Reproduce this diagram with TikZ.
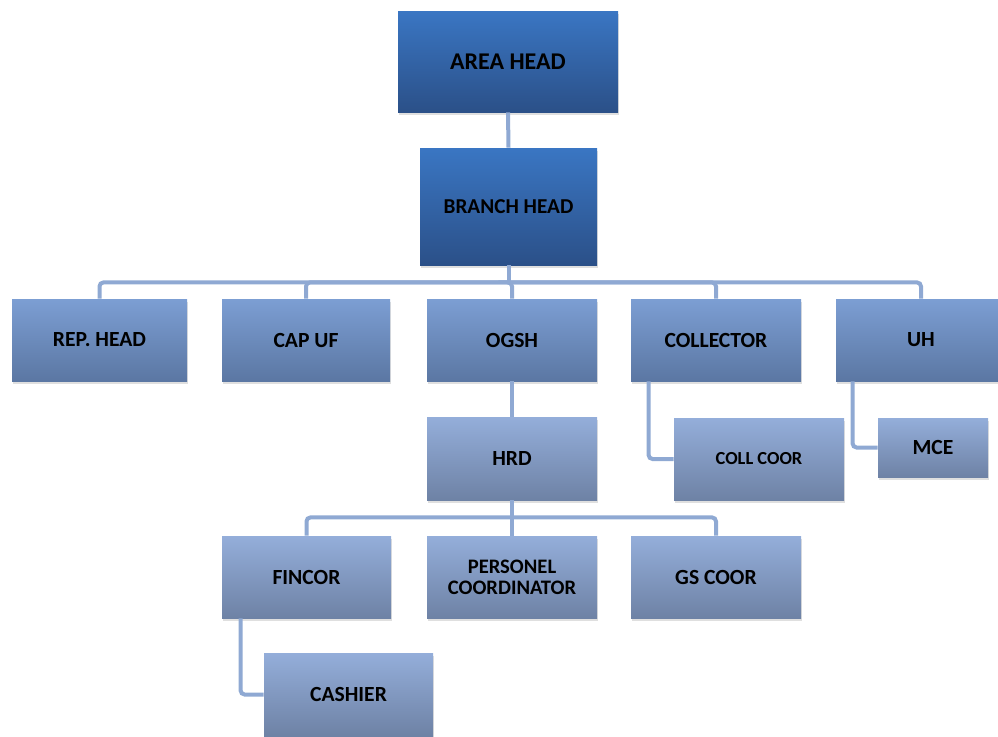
\documentclass[tikz,border=0pt]{standalone}
\usepackage{fontspec}
\setmainfont{Carlito}
\usetikzlibrary{shadows}

\definecolor{headtop}{RGB}{58,118,195}
\definecolor{headbot}{RGB}{43,80,136}
\definecolor{midtop}{RGB}{124,158,211}
\definecolor{midbot}{RGB}{91,119,163}
\definecolor{lowtop}{RGB}{148,174,218}
\definecolor{lowbot}{RGB}{110,130,165}
\definecolor{linkcol}{RGB}{143,169,211}

\tikzset{
  box/.style={rectangle, inner sep=2pt, align=center, font=\bfseries\fontsize{10.8}{11.5}\selectfont,
    drop shadow={opacity=0.25, shadow xshift=0.6pt, shadow yshift=-1.5pt}},
  headbox/.style={box, shade, top color=headtop, bottom color=headbot},
  midbox/.style={box, shade, top color=midtop, bottom color=midbot},
  lowbox/.style={box, shade, top color=lowtop, bottom color=lowbot},
  link/.style={draw=linkcol, line width=2pt, rounded corners=2pt}
}

\begin{document}
\begin{tikzpicture}[x=0.5pt,y=-0.5pt]
\useasboundingbox (0,0) rectangle (998,736);
\node[headbox, minimum width=110pt, minimum height=50.5pt, font=\bfseries\fontsize{12}{13}\selectfont] (area) at (508,61.5) {AREA HEAD};
\node[headbox, minimum width=88.5pt, minimum height=58.5pt, font=\bfseries\fontsize{10.6}{12}\selectfont] (branch) at (508.5,206.5) {BRANCH HEAD};
\node[midbox, minimum width=87.5pt, minimum height=41pt] (rep) at (99.5,340) {REP. HEAD};
\node[midbox, minimum width=84pt, minimum height=41pt] (cap) at (306,340) {CAP UF};
\node[midbox, minimum width=85pt, minimum height=41pt] (ogsh) at (512,340) {OGSH};
\node[midbox, minimum width=85pt, minimum height=41pt] (collector) at (716,340) {COLLECTOR};
\node[midbox, minimum width=85pt, minimum height=41pt] (uh) at (921,340) {UH};
\node[lowbox, minimum width=85pt, minimum height=41.5pt] (hrd) at (512,458.5) {HRD};
\node[lowbox, minimum width=85pt, minimum height=41pt, font=\bfseries\fontsize{9.2}{10}\selectfont] (collcoor) at (759,459) {COLL COOR};
\node[lowbox, minimum width=55pt, minimum height=29.5pt] (mce) at (933,447.5) {MCE};
\node[lowbox, minimum width=84.5pt, minimum height=41pt] (fincor) at (306.5,577) {FINCOR};
\node[lowbox, minimum width=85pt, minimum height=41pt, font=\bfseries\fontsize{10.3}{10.6}\selectfont] (personel) at (512,577) {PERSONEL\\COORDINATOR};
\node[lowbox, minimum width=85pt, minimum height=41pt] (gscoor) at (716,577) {GS COOR};
\node[lowbox, minimum width=84.5pt, minimum height=41.5pt] (cashier) at (348.5,694.5) {CASHIER};
\path[link] (area.south) -- (branch.north);
\path[link] (branch.south) -- ++(0,17) coordinate (bus);
\path[link] (bus) -| (rep.north);
\path[link] (bus) -| (cap.north);
\path[link] (bus) -| (ogsh.north);
\path[link] (bus) -| (collector.north);
\path[link] (bus) -| (uh.north);
\path[link] (ogsh.south) -- (hrd.north);
\path[link] (collector.south west) ++(18,0) |- (collcoor.west);
\path[link] (uh.south west) ++(17,0) |- (mce.west);
\path[link] (hrd.south) -- ++(0,17) coordinate (hbus);
\path[link] (hbus) -| (fincor.north);
\path[link] (hbus) -| (personel.north);
\path[link] (hbus) -| (gscoor.north);
\path[link] (fincor.south west) ++(19,0) |- (cashier.west);
\end{tikzpicture}
\end{document}
